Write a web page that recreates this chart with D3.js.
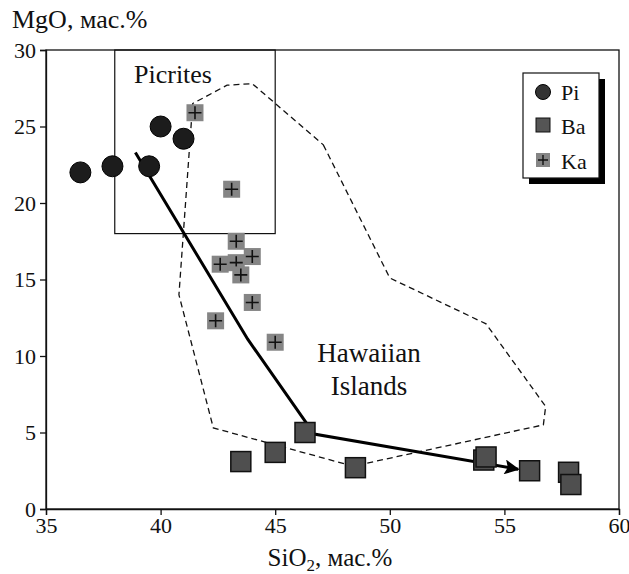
<!DOCTYPE html>
<html lang="en">
<head>
<meta charset="UTF-8" />
<title>MgO vs SiO2</title>
<script src="https://d3js.org/d3.v7.min.js"></script>
<style>
  body { margin: 0; background: #fff; }
  svg text { fill: #111; }
</style>
</head>
<body>
<div id="chart"></div>
<script>
// Pi – picrites (circles)
const piSiO2 = [36.5, 37.9, 39.5, 40.0, 41.0];
const piMgO  = [22.0, 22.4, 22.4, 25.0, 24.2];
// Ba – basalts (dark squares)
const baSiO2 = [43.5, 45.0, 46.3, 48.5, 54.1, 54.2, 56.1, 57.8, 57.9];
const baMgO  = [3.1, 3.7, 5.0, 2.7, 3.2, 3.4, 2.5, 2.4, 1.6];
// Ka – (grey squares with cross)
const kaSiO2 = [41.5, 43.1, 43.3, 44.0, 42.6, 43.3, 43.5, 44.0, 42.4, 45.0];
const kaMgO  = [25.9, 20.9, 17.5, 16.5, 16.0, 16.1, 15.3, 13.5, 12.3, 10.9];
// Hawaiian Islands field
const hawSiO2 = [47.1, 50.0, 54.2, 56.8, 56.7, 48.4, 42.3, 40.8, 41.4, 42.9, 44.0];
const hawMgO  = [23.8, 15.1, 12.1, 6.7, 5.5, 2.8, 5.3, 14.0, 26.5, 27.7, 27.8];
// trend arrow
const trendSiO2 = [38.9, 43.8, 46.7, 55.6];
const trendMgO  = [23.3, 11.1, 4.9, 2.6];
// Picrites field box
const picSiO2 = [38, 45];
const picMgO  = [18, 30];

const xTicks = [35, 40, 45, 50, 55, 60];
const yTicks = [0, 5, 10, 15, 20, 25, 30];

const W = 629, H = 574;
const margin = { top: 50, right: 10, bottom: 65, left: 46 };
const serif = "Liberation Serif";

const svg = d3.select("#chart").append("svg")
  .attr("width", W).attr("height", H)
  .attr("font-family", serif);

const x = d3.scaleLinear().domain([35, 60]).range([margin.left, W - margin.right]);
const y = d3.scaleLinear().domain([0, 30]).range([H - margin.bottom, margin.top]);

// frame
svg.append("rect")
  .attr("x", x(35)).attr("y", y(30))
  .attr("width", x(60) - x(35)).attr("height", y(0) - y(30))
  .attr("fill", "none").attr("stroke", "#111").attr("stroke-width", 1.3);

// axes
const xAxis = svg.append("g")
  .attr("transform", `translate(0,${y(0)})`)
  .call(d3.axisBottom(x).tickValues(xTicks).tickSize(6).tickPadding(2));
const yAxis = svg.append("g")
  .attr("transform", `translate(${x(35)},0)`)
  .call(d3.axisLeft(y).tickValues(yTicks).tickSize(6).tickPadding(4));
[xAxis, yAxis].forEach(g => {
  g.attr("font-family", serif);
  g.select(".domain").attr("stroke", "#111").attr("stroke-width", 1.3);
  g.selectAll(".tick line").attr("stroke", "#111").attr("stroke-width", 1.3);
  g.selectAll(".tick text").attr("font-size", 22).attr("fill", "#111");
});

// axis titles
svg.append("text").attr("x", 12).attr("y", 28)
  .attr("font-size", 26).text("MgO, мас.%");
const xt = svg.append("text").attr("x", 330).attr("y", 566)
  .attr("text-anchor", "middle").attr("font-size", 25);
xt.append("tspan").text("SiO");
xt.append("tspan").attr("font-size", 17).attr("dy", 5).text("2");
xt.append("tspan").attr("dy", -5).text(", мас.%");

// Picrites box
svg.append("rect")
  .attr("x", x(picSiO2[0])).attr("y", y(picMgO[1]))
  .attr("width", x(picSiO2[1]) - x(picSiO2[0]))
  .attr("height", y(picMgO[0]) - y(picMgO[1]))
  .attr("fill", "none").attr("stroke", "#111").attr("stroke-width", 1.2);
svg.append("text").attr("x", 173).attr("y", 83)
  .attr("text-anchor", "middle").attr("font-size", 26).text("Picrites");

// Hawaiian field
const hawPts = hawSiO2.map((d, i) => [x(d), y(hawMgO[i])]);
svg.append("path")
  .attr("d", d3.line()(hawPts) + "Z")
  .attr("fill", "none").attr("stroke", "#111").attr("stroke-width", 1.3)
  .attr("stroke-dasharray", "6,4");
svg.append("text").attr("x", 369).attr("y", 362)
  .attr("text-anchor", "middle").attr("font-size", 27).text("Hawaiian");
svg.append("text").attr("x", 369).attr("y", 395)
  .attr("text-anchor", "middle").attr("font-size", 27).text("Islands");

// trend arrow
svg.append("defs").append("marker")
  .attr("id", "arrow").attr("viewBox", "0 0 10 10")
  .attr("refX", 9).attr("refY", 5)
  .attr("markerWidth", 7).attr("markerHeight", 5)
  .attr("markerUnits", "strokeWidth").attr("orient", "auto")
  .append("path").attr("d", "M0,0 L10,5 L0,10 L2,5 Z").attr("fill", "#000");
const trendPts = trendSiO2.map((d, i) => [x(d), y(trendMgO[i])]);
svg.append("path")
  .attr("d", d3.line()(trendPts))
  .attr("fill", "none").attr("stroke", "#000").attr("stroke-width", 3)
  .attr("marker-end", "url(#arrow)");

// Ba squares
const ba = baSiO2.map((d, i) => ({ sx: d, my: baMgO[i] }));
svg.append("g").selectAll("rect").data(ba).enter().append("rect")
  .attr("x", d => x(d.sx) - 10).attr("y", d => y(d.my) - 10)
  .attr("width", 20).attr("height", 20)
  .attr("fill", "#4f4f4f").attr("stroke", "#111").attr("stroke-width", 1.5);

// Ka squares with cross
const ka = kaSiO2.map((d, i) => ({ sx: d, my: kaMgO[i] }));
const kaG = svg.append("g").selectAll("g").data(ka).enter().append("g")
  .attr("transform", d => `translate(${x(d.sx)},${y(d.my)})`);
kaG.append("rect").attr("x", -8.5).attr("y", -8.5).attr("width", 17).attr("height", 17)
  .attr("fill", "#858585");
kaG.append("path").attr("d", "M-6.5,0H6.5M0,-6.5V6.5").attr("stroke", "#111").attr("stroke-width", 1.6);

// Pi circles
const pi = piSiO2.map((d, i) => ({ sx: d, my: piMgO[i] }));
svg.append("g").selectAll("circle").data(pi).enter().append("circle")
  .attr("cx", d => x(d.sx)).attr("cy", d => y(d.my)).attr("r", 10.5)
  .attr("fill", "#1c1c1c").attr("stroke", "#000");

// legend
const lg = svg.append("g").attr("transform", "translate(523,73)");
lg.append("rect").attr("x", 6).attr("y", 6).attr("width", 76).attr("height", 105).attr("fill", "#000");
lg.append("rect").attr("width", 76).attr("height", 105)
  .attr("fill", "#fff").attr("stroke", "#111").attr("stroke-width", 1.2);
lg.append("circle").attr("cx", 20).attr("cy", 19).attr("r", 7.5).attr("fill", "#333").attr("stroke", "#000");
lg.append("text").attr("x", 38).attr("y", 27).attr("font-size", 22).text("Pi");
lg.append("rect").attr("x", 13).attr("y", 45).attr("width", 14).attr("height", 14)
  .attr("fill", "#555").attr("stroke", "#111");
lg.append("text").attr("x", 38).attr("y", 61).attr("font-size", 22).text("Ba");
lg.append("rect").attr("x", 13).attr("y", 80).attr("width", 14).attr("height", 14).attr("fill", "#858585");
lg.append("path").attr("d", "M15,87H25M20,82V92").attr("stroke", "#111").attr("stroke-width", 1.4);
lg.append("text").attr("x", 38).attr("y", 96).attr("font-size", 22).text("Ka");
</script>
</body>
</html>
